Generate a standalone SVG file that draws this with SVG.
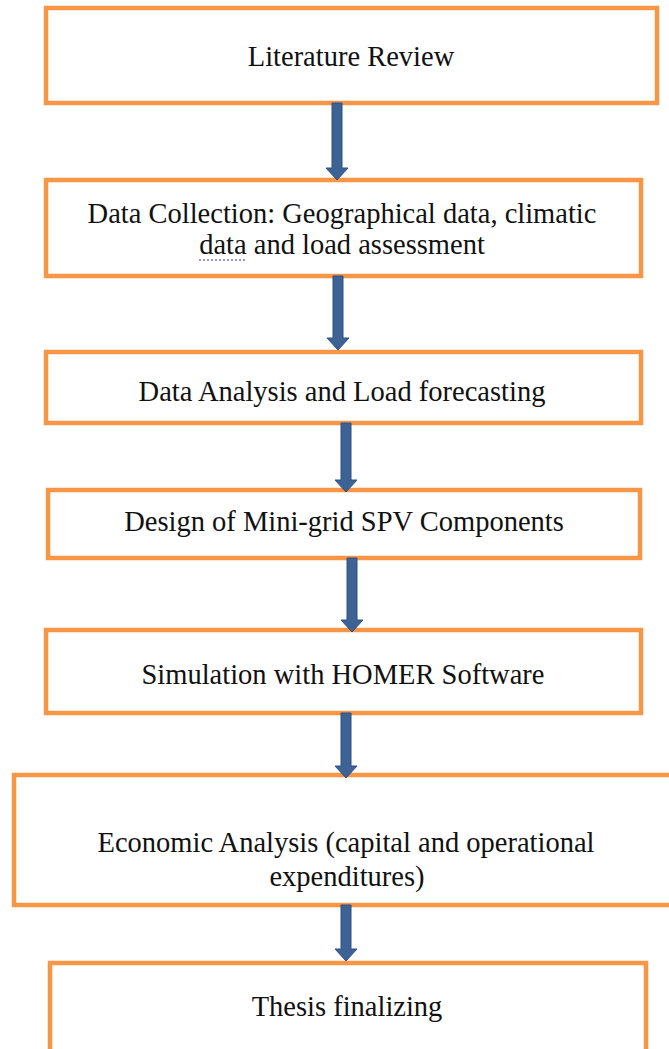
<svg xmlns="http://www.w3.org/2000/svg" width="669" height="1049" viewBox="0 0 669 1049">
<style>
.box{fill:#fff;stroke:#F79646;stroke-width:4.5}
.lbl{font-family:"Liberation Serif","Times New Roman",serif;font-size:28.5px;fill:#111;text-anchor:middle}
.arr{fill:#3D6294;stroke:#2E5183;stroke-width:1}
</style>
<rect width="669" height="1049" fill="#fff"/>
<g id="n1"><rect class="box" x="46" y="8" width="611" height="95"/><text class="lbl" x="351" y="66">Literature Review</text></g>
<g id="n2"><rect class="box" x="46" y="180" width="595" height="96"/><text class="lbl" x="342" y="223">Data Collection: Geographical data, climatic</text><text class="lbl" x="342" y="254">data and load assessment</text><line x1="199" y1="260" x2="247" y2="260" stroke="#7B68EE" stroke-width="1.5" stroke-dasharray="2,2"/></g>
<g id="n3"><rect class="box" x="46" y="352" width="595" height="71"/><text class="lbl" x="342" y="401">Data Analysis and Load forecasting</text></g>
<g id="n4"><rect class="box" x="48" y="490" width="592" height="68"/><text class="lbl" x="344" y="531">Design of Mini-grid SPV Components</text></g>
<g id="n5"><rect class="box" x="46" y="630" width="595" height="83"/><text class="lbl" x="343" y="684">Simulation with HOMER Software</text></g>
<g id="n6"><rect class="box" x="14" y="775" width="662" height="130"/><text class="lbl" x="346" y="852">Economic Analysis (capital and operational</text><text class="lbl" x="347" y="886">expenditures)</text></g>
<g id="n7"><rect class="box" x="50" y="963" width="596" height="100"/><text class="lbl" x="347" y="1016">Thesis finalizing</text></g>
<g id="connectors">
<polygon class="arr" points="332,103 342,103 342,168 348,168 337,180 326,168 332,168"/>
<polygon class="arr" points="333,276 343,276 343,338 349,338 338,350 327,338 333,338"/>
<polygon class="arr" points="341,423 351,423 351,480 357,480 346,492 335,480 341,480"/>
<polygon class="arr" points="347,558 357,558 357,620 363,620 352,632 341,620 347,620"/>
<polygon class="arr" points="341,713 351,713 351,766 357,766 346,778 335,766 341,766"/>
<polygon class="arr" points="341,905 351,905 351,949 357,949 346,961 335,949 341,949"/>
</g>
</svg>
